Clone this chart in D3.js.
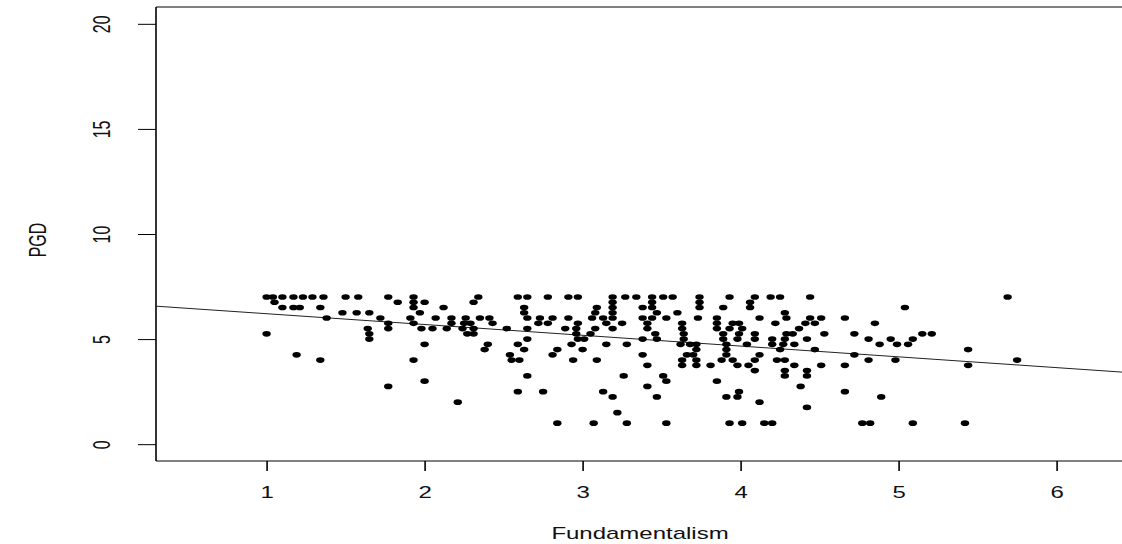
<!DOCTYPE html>
<html lang="en">
  <head>
    <meta charset="utf-8">
    <title>PGD vs Fundamentalism</title>
    <script src="https://d3js.org/d3.v7.min.js"></script>
    <style type="text/css">
      body { margin: 0; background: #fff; }
      svg { display: block; font-family: "Liberation Sans", Arial, sans-serif; }
    </style>
  </head>
  <body>
    <div id="chart"></div>
    <script type="text/javascript">
      // Fundamentalism scores, one array per PGD level (PGD moves in quarter steps)
      var at700 = [1.00,1.04,1.10,1.17,1.23,1.29,1.36,1.50,1.58,1.77,1.93,2.34,2.59,2.65,2.78,2.91,2.97,3.19,3.27,3.34,3.44,3.51,3.57,3.74,3.93,4.09,4.19,4.25,4.44,5.69];
      var at675 = [1.05,1.83,1.93,2.00,2.31,3.19,3.44,3.74,4.06];
      var at650 = [1.10,1.17,1.21,1.34,1.93,2.12,2.63,3.09,3.19,3.38,3.44,3.74,3.89,4.06,5.04];
      var at625 = [1.48,1.57,1.65,1.97,2.63,3.08,3.19,3.47,3.60,4.28];
      var at600 = [1.38,1.72,1.91,2.07,2.17,2.26,2.35,2.41,2.65,2.73,2.81,2.91,3.06,3.13,3.19,3.38,3.44,3.53,3.73,3.85,4.12,4.29,4.44,4.51,4.66];
      var at575 = [1.77,1.93,2.17,2.25,2.29,2.43,2.72,2.78,2.97,3.15,3.25,3.41,3.63,3.85,3.95,3.99,4.22,4.41,4.47,4.85];
      var at550 = [1.64,1.77,1.98,2.05,2.14,2.24,2.31,2.52,2.65,2.89,2.96,3.08,3.19,3.41,3.63,3.85,3.93,4.01,4.37];
      var at525 = [1.00,1.65,2.27,2.31,2.96,3.05,3.46,3.64,3.89,3.99,4.09,4.29,4.33,4.53,4.72,5.15,5.21];
      var at500 = [1.65,2.65,2.97,3.01,3.38,3.47,3.64,3.89,3.98,4.09,4.20,4.28,4.42,4.81,4.95,5.09];
      var at475 = [2.00,2.40,2.59,2.93,3.15,3.28,3.62,3.68,3.72,3.91,4.04,4.20,4.27,4.34,4.88,4.99,5.06];
      var at450 = [2.38,2.63,2.84,3.00,3.72,3.91,4.25,4.47,5.44];
      var at425 = [1.19,2.54,2.81,3.38,3.66,3.70,3.91,4.12,4.72];
      var at400 = [1.34,1.93,2.55,2.60,2.94,3.09,3.63,3.72,3.88,3.95,4.09,4.23,4.28,4.81,4.98,5.75];
      var at375 = [3.41,3.63,3.72,3.81,3.98,4.05,4.34,4.51,4.66,5.44];
      var at350 = [4.09,4.28,4.42];
      var at325 = [2.65,3.26,3.51,4.28,4.42];
      var at300 = [2.00,3.53,3.85];
      var at275 = [1.77,3.41,4.38];
      var at250 = [2.59,2.75,3.13,3.99,4.66];
      var at225 = [3.19,3.47,3.91,3.98,4.89];
      var at200 = [2.21,4.12];
      var at175 = [4.42];
      var at150 = [3.22];
      var at100 = [2.84,3.07,3.28,3.53,3.93,4.01,4.15,4.20,4.77,4.82,5.09,5.42];

      var pgdLevels = [7, 6.75, 6.5, 6.25, 6, 5.75, 5.5, 5.25, 5, 4.75, 4.5, 4.25, 4, 3.75, 3.5, 3.25, 3, 2.75, 2.5, 2.25, 2, 1.75, 1.5, 1];
      var fundRows = [at700, at675, at650, at625, at600, at575, at550, at525, at500, at475, at450, at425, at400, at375, at350, at325, at300, at275, at250, at225, at200, at175, at150, at100];

      // fitted line PGD = a + b * Fundamentalism
      var fitIntercept = 6.72;
      var fitSlope = -0.513;

      var xTicks = [1, 2, 3, 4, 5, 6];
      var yTicks = [0, 5, 10, 15, 20];
      var xLabel = "Fundamentalism";
      var yLabel = "PGD";

      var points = [];
      pgdLevels.forEach(function (lv, i) {
        fundRows[i].forEach(function (f) { points.push({ f: f, pgd: lv }); });
      });

      var width = 1122, height = 544;
      var stretch = 1.5; // the picture is squeezed wider than tall

      var svg = d3.select("#chart").append("svg")
        .attr("width", width).attr("height", height);

      var x = d3.scaleLinear().domain([0.3, 6.45]).range([156, 1127.7]);
      var y = d3.scaleLinear().domain([-0.8, 20.8]).range([461, 7]);

      svg.append("clipPath").attr("id", "plotclip")
        .append("rect").attr("x", 156).attr("y", 7).attr("width", 980).attr("height", 454);

      // frame
      svg.append("line").attr("x1", 156).attr("x2", width).attr("y1", 7).attr("y2", 7)
        .attr("stroke", "#000").attr("stroke-width", 1);
      svg.append("line").attr("x1", 156).attr("x2", width).attr("y1", 461).attr("y2", 461)
        .attr("stroke", "#000").attr("stroke-width", 1);
      svg.append("line").attr("x1", 156).attr("x2", 156).attr("y1", 7).attr("y2", 461)
        .attr("stroke", "#000").attr("stroke-width", 1.6);

      // x axis
      var gx = svg.append("g").attr("transform", "translate(0,461)")
        .call(d3.axisBottom(x).tickValues(xTicks).tickSize(10).tickFormat(d3.format("d")));
      gx.select(".domain").remove();
      gx.selectAll(".tick line").attr("stroke", "#000").attr("stroke-width", 1.6);
      gx.selectAll(".tick text")
        .attr("y", 0).attr("dy", null)
        .attr("transform", "translate(0,37) scale(" + stretch + ",1)")
        .attr("fill", "#111").style("font-size", "16px");

      // y axis
      var gy = svg.append("g").attr("transform", "translate(156,0)")
        .call(d3.axisLeft(y).tickValues(yTicks).tickSize(18).tickFormat(d3.format("d")));
      gy.select(".domain").remove();
      gy.selectAll(".tick line").attr("stroke", "#000").attr("stroke-width", 1);
      gy.selectAll(".tick text")
        .attr("x", 0).attr("dy", null).attr("text-anchor", "middle")
        .attr("transform", "translate(-46,0) scale(" + stretch + ",1) rotate(-90)")
        .attr("fill", "#111").style("font-size", "16px");

      // fitted line
      svg.append("line")
        .attr("clip-path", "url(#plotclip)")
        .attr("x1", x(0.3)).attr("y1", y(fitIntercept + fitSlope * 0.3))
        .attr("x2", x(6.45)).attr("y2", y(fitIntercept + fitSlope * 6.45))
        .attr("stroke", "#222").attr("stroke-width", 1);

      // points
      svg.append("g").selectAll("ellipse").data(points).enter().append("ellipse")
        .attr("cx", function (d) { return x(d.f); })
        .attr("cy", function (d) { return y(d.pgd); })
        .attr("rx", 4.2).attr("ry", 2.8)
        .attr("fill", "#000");

      // axis titles
      svg.append("text")
        .attr("transform", "translate(640,539) scale(" + stretch + ",1)")
        .attr("text-anchor", "middle").attr("fill", "#111").style("font-size", "16px")
        .text(xLabel);
      svg.append("text")
        .attr("transform", "translate(46,240) scale(" + stretch + ",1) rotate(-90)")
        .attr("text-anchor", "middle").attr("fill", "#111").style("font-size", "16px")
        .text(yLabel);
    </script>
  </body>
</html>
